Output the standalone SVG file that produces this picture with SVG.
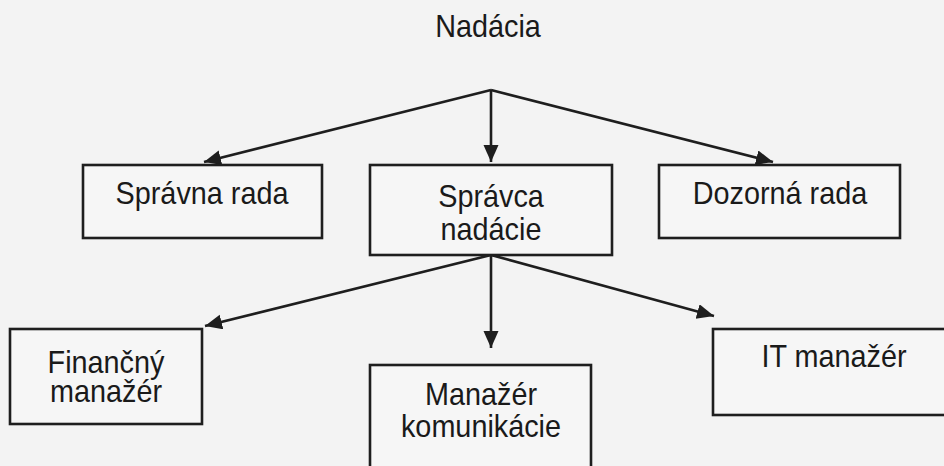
<svg xmlns="http://www.w3.org/2000/svg" width="944" height="466" viewBox="0 0 944 466">
<style>
.bg{fill:#f3f3f3}
.box{fill:#f6f6f6;stroke:#1e1e1e;stroke-width:2.6}
.t{font-family:"Liberation Sans",Arial,sans-serif;font-size:32px;fill:#1a1a1a;text-anchor:middle}
.c{stroke:#1e1e1e;stroke-width:2.6;fill:none;marker-end:url(#ah)}
</style>
<defs>
<marker id="ah" markerUnits="userSpaceOnUse" markerWidth="18" markerHeight="16" refX="17" refY="7.5" orient="auto">
<path d="M0,0 L17,7.5 L0,15 z" fill="#1e1e1e"/>
</marker>
</defs>
<rect class="bg" x="0" y="0" width="944" height="466"/>
<g id="connectors">
<line class="c" x1="491" y1="90" x2="204" y2="162"/>
<line class="c" x1="491" y1="90" x2="491" y2="162"/>
<line class="c" x1="491" y1="90" x2="773" y2="162"/>
<line class="c" x1="491" y1="255" x2="205" y2="326"/>
<line class="c" x1="491" y1="255" x2="491" y2="348"/>
<line class="c" x1="491" y1="255" x2="714" y2="316"/>
</g>
<g id="nadacia">
<g transform="translate(488,0) scale(0.9,1)"><text class="t" x="0" y="37">Nadácia</text></g>
</g>
<g id="spravna-rada">
<rect class="box" x="83" y="165" width="239" height="73"/>
<g transform="translate(202,0) scale(0.9,1)"><text class="t" x="0" y="204">Správna rada</text></g>
</g>
<g id="spravca-nadacie">
<rect class="box" x="370" y="165" width="242" height="90"/>
<g transform="translate(491,0) scale(0.9,1)"><text class="t" x="0" y="207">Správca</text>
<text class="t" x="0" y="240">nadácie</text></g>
</g>
<g id="dozorna-rada">
<rect class="box" x="659" y="165" width="241" height="73"/>
<g transform="translate(780,0) scale(0.9,1)"><text class="t" x="0" y="204">Dozorná rada</text></g>
</g>
<g id="financny-manazer">
<rect class="box" x="10" y="329" width="192" height="95"/>
<g transform="translate(106,0) scale(0.9,1)"><text class="t" x="0" y="373">Finančný</text>
<text class="t" x="0" y="402">manažér</text></g>
</g>
<g id="manazer-komunikacie">
<rect class="box" x="370" y="365" width="221" height="115"/>
<g transform="translate(481,0) scale(0.9,1)"><text class="t" x="0" y="405">Manažér</text>
<text class="t" x="0" y="437">komunikácie</text></g>
</g>
<g id="it-manazer">
<rect class="box" x="713" y="329" width="245" height="86"/>
<g transform="translate(834,0) scale(0.9,1)"><text class="t" x="0" y="367">IT manažér</text></g>
</g>
</svg>
